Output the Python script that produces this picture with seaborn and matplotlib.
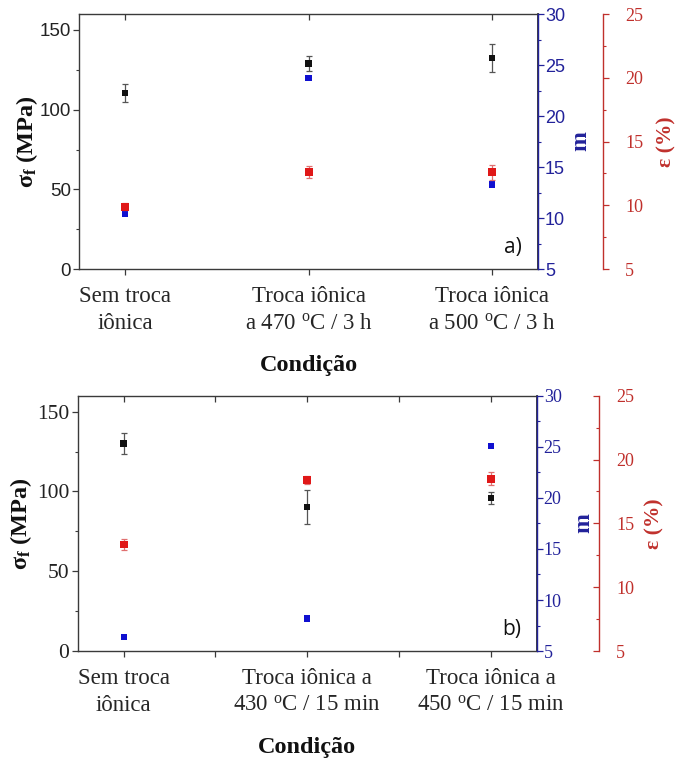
import numpy as np
import pandas as pd
import matplotlib
matplotlib.use("Agg")
import matplotlib.pyplot as plt
from matplotlib.ticker import MultipleLocator, FixedLocator
import seaborn as sns

# ---------------- data ----------------
cond_a = ["Sem troca\niônica",
          "Troca iônica\na 470 $^{\\mathrm{o}}$C / 3 h",
          "Troca iônica\na 500 $^{\\mathrm{o}}$C / 3 h"]
sigma_a = [110.5, 129.0, 132.5]
sigma_a_err = [5.5, 4.8, 8.7]
m_a = [10.4, 23.7, 13.3]
eps_a = [9.9, 12.6, 12.6]
eps_a_err = [0.3, 0.45, 0.6]

cond_b = ["Sem troca\niônica",
          "Troca iônica a\n430 $^{\\mathrm{o}}$C / 15 min",
          "Troca iônica a\n450 $^{\\mathrm{o}}$C / 15 min"]
sigma_b = [130.0, 90.3, 96.0]
sigma_b_err = [6.8, 10.6, 3.8]
m_b = [6.4, 8.2, 25.1]
eps_b = [13.35, 18.4, 18.5]
eps_b_err = [0.45, 0.35, 0.5]

sns.set_theme(style="ticks")
plt.rcParams["mathtext.fontset"] = "custom"
plt.rcParams["mathtext.rm"] = "Liberation Serif"
plt.rcParams["mathtext.it"] = "Liberation Serif:italic"
plt.rcParams["mathtext.bf"] = "Liberation Serif:bold"
plt.rcParams["font.family"] = ["Liberation Serif", "DejaVu Sans"]

BLACK = "#111111"
BLUE_M = "#1010d0"
BLUE_AX = "#22229a"
RED_M = "#e01818"
RED_AX = "#c0302c"
SPINE = "#3a3a3a"

fig = plt.figure(figsize=(6.76, 7.58), dpi=100)


def panel(rect, conds, sig, sig_err, m, eps, eps_err, letter, sans_ticks,
          red_offset, red_in, minor_x, coords, left_fs):
    ax = fig.add_axes(rect)
    axm = ax.twinx()
    axe = ax.twinx()
    x = np.arange(len(conds))
    df = pd.DataFrame({"x": x, "sig": sig, "m": m, "eps": eps})

    ax.errorbar(x, sig, yerr=sig_err, fmt="none", ecolor="#555555",
                elinewidth=0.9, capsize=2.5, capthick=0.9, zorder=2)
    sns.scatterplot(data=df, x="x", y="sig", ax=ax, marker="s", s=22,
                    color=BLACK, edgecolor="none", zorder=3, legend=False)
    sns.scatterplot(data=df, x="x", y="m", ax=axm, marker="s", s=20,
                    color=BLUE_M, edgecolor="none", zorder=3, legend=False)
    axe.errorbar(x, eps, yerr=eps_err, fmt="none", ecolor="#e07070",
                 elinewidth=0.9, capsize=2.5, capthick=0.9, zorder=2)
    sns.scatterplot(data=df, x="x", y="eps", ax=axe, marker="s", s=32,
                    color=RED_M, edgecolor="none", zorder=3, legend=False)

    ax.set_xlim(-0.25, 2.25)
    ax.set_ylim(0, 160)
    axm.set_ylim(5, 30)
    axe.set_ylim(5, 25)

    ax.set_xticks(x)
    ax.set_xticklabels(conds, fontsize=16.5, family="Liberation Serif",
                       linespacing=1.4)
    if minor_x:
        ax.xaxis.set_minor_locator(FixedLocator([0.5, 1.5]))
    ax.set_yticks([0, 50, 100, 150])
    ax.yaxis.set_minor_locator(MultipleLocator(25))
    tfam = "Liberation Sans" if sans_ticks else "Liberation Serif"
    for lab in ax.get_yticklabels():
        lab.set_family(tfam)
        lab.set_fontsize(left_fs)
    ax.tick_params(axis="x", which="both", direction="out",
                   length=4, width=0.9, color=SPINE, pad=8)
    ax.tick_params(axis="y", which="major", direction="out", length=4,
                   width=0.9, color=SPINE, pad=2, labelcolor="#222222")
    ax.tick_params(axis="y", which="minor", direction="out", length=2.5,
                   width=0.8, color=SPINE)
    # inward top ticks via secondary axis
    sec = ax.secondary_xaxis("top")
    sec.set_xticks(x)
    sec.set_xticklabels([])
    if minor_x:
        sec.xaxis.set_minor_locator(FixedLocator([0.5, 1.5]))
    sec.tick_params(axis="x", which="both", direction="in", length=4,
                    width=0.9, color=SPINE)
    sec.spines["top"].set_visible(False)
    ax.tick_params(axis="x", which="both", top=False)

    for s in ["left", "bottom", "top"]:
        ax.spines[s].set_color(SPINE)
        ax.spines[s].set_linewidth(1.0)

    # m axis
    axm.set_yticks([5, 10, 15, 20, 25, 30])
    axm.yaxis.set_minor_locator(MultipleLocator(2.5))
    for lab in axm.get_yticklabels():
        lab.set_family(tfam)
        lab.set_fontsize(13)
    axm.tick_params(axis="y", which="major", direction="out", length=4,
                    width=0.9, color=BLUE_AX, labelcolor=BLUE_AX, pad=1)
    axm.tick_params(axis="y", which="minor", direction="out", length=2.5,
                    width=0.8, color=BLUE_AX)
    axm.spines["right"].set_color(BLUE_AX)
    axm.spines["right"].set_linewidth(1.0)
    for s in ["left", "top", "bottom"]:
        axm.spines[s].set_visible(False)
    axm.set_ylabel("m", color=BLUE_AX, fontsize=17, fontweight="bold",
                   family="Liberation Serif")
    axm.yaxis.set_label_coords(coords["m"], 0.5)

    # eps axis
    axe.spines["right"].set_position(("outward", red_offset))
    for s in ["left", "top", "bottom"]:
        axe.spines[s].set_visible(False)
    axe.spines["right"].set_color(RED_AX)
    axe.spines["right"].set_linewidth(1.0)
    axe.set_yticks([5, 10, 15, 20, 25])
    axe.yaxis.set_minor_locator(MultipleLocator(2.5))
    for lab in axe.get_yticklabels():
        lab.set_family("Liberation Serif")
        lab.set_fontsize(13)
    d = "in" if red_in else "out"
    axe.tick_params(axis="y", which="major", direction=d, length=4,
                    width=0.9, color=RED_AX, labelcolor=RED_AX,
                    pad=12)
    axe.tick_params(axis="y", which="minor", direction=d, length=2.5,
                    width=0.8, color=RED_AX)
    axe.set_ylabel("ε (%)", color=RED_AX, fontsize=15.5, fontweight="bold",
                   family="Liberation Serif")
    axe.yaxis.set_label_coords(coords["e"], 0.5)

    ax.set_ylabel("σ$_{\\mathbf{f}}$ (MPa)", fontsize=17.5, fontweight="bold",
                  family="Liberation Serif", color=BLACK)
    ax.yaxis.set_label_coords(coords["s"], 0.5)
    ax.set_xlabel("Condição", fontsize=17.5, fontweight="bold",
                  family="Liberation Serif", color=BLACK)
    ax.xaxis.set_label_coords(0.5, coords["x"])

    ax.text(0.945, 0.085, letter, transform=ax.transAxes, fontsize=15,
            family="Open Sans", ha="center", va="center", color=BLACK)
    return ax


panel([0.117, 0.645, 0.679, 0.3365], cond_a, sigma_a, sigma_a_err, m_a,
      eps_a, eps_a_err, "a)", True, 46.8, False, False,
      {"m": 1.07, "e": 1.258, "s": -0.086, "x": -0.338}, 13.5)
panel([0.115, 0.141, 0.679, 0.337], cond_b, sigma_b, sigma_b_err, m_b,
      eps_b, eps_b_err, "b)", False, 45, True, True,
      {"m": 1.08, "e": 1.235, "s": -0.095, "x": -0.335}, 15.5)

fig.savefig("out.png", dpi=100, facecolor="white")
